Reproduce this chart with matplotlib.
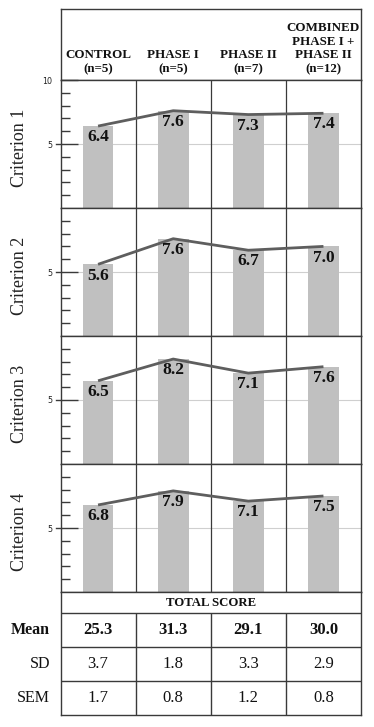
import matplotlib
matplotlib.use('Agg')
import matplotlib.pyplot as plt
from matplotlib.ticker import FixedLocator

# ---- data ----
groups = ["CONTROL\n(n=5)", "PHASE I\n(n=5)", "PHASE II\n(n=7)",
          "COMBINED\nPHASE I +\nPHASE II\n(n=12)"]
criteria = ["Criterion 1", "Criterion 2", "Criterion 3", "Criterion 4"]
crit1 = [6.4, 7.6, 7.3, 7.4]
crit2 = [5.6, 7.6, 6.7, 7.0]
crit3 = [6.5, 8.2, 7.1, 7.6]
crit4 = [6.8, 7.9, 7.1, 7.5]
crit_values = [crit1, crit2, crit3, crit4]
row_labels = ["Mean", "SD", "SEM"]
total_mean = [25.3, 31.3, 29.1, 30.0]
total_sd = [3.7, 1.8, 3.3, 2.9]
total_sem = [1.7, 0.8, 1.2, 0.8]

W, H = 374, 727
fig = plt.figure(figsize=(W / 100, H / 100), dpi=100)
SERIF = ["Liberation Serif", "DejaVu Serif"]
EDGE = "#3a3a3a"
BAR = "#c0c0c0"
LINE = "#5e5e5e"

def fbox(x0, y0, x1, y1):
    return [x0 / W, 1 - y1 / H, (x1 - x0) / W, (y1 - y0) / H]

X0, X1 = 60.5, 361
xs = list(range(len(groups)))

def style_box(ax):
    for s in ax.spines.values():
        s.set_color(EDGE)
        s.set_linewidth(1.0)
    ax.set_xlim(-0.5, 3.5)

# ---- header ----
hax = fig.add_axes(fbox(X0, 9, X1, 80))
style_box(hax)
hax.set_ylim(0, 1)
hax.set_xticks([]); hax.set_yticks([])
for i, g in enumerate(groups):
    hax.text(i, 0.07, g, ha='center', va='bottom', multialignment='center',
             fontsize=9.4, fontweight='bold', family=SERIF, color='#111111',
             linespacing=1.17)

# ---- criterion panels ----
for k, (name, vals) in enumerate(zip(criteria, crit_values)):
    top = 80 + 128 * k
    ax = fig.add_axes(fbox(X0, top, X1, top + 128))
    style_box(ax)
    ax.set_ylim(0, 10)
    ax.axhline(5, color='#cfcfcf', lw=0.8, zorder=0)
    ax.bar(xs, vals, width=0.41, color=BAR, zorder=1)
    ax.plot(xs, vals, color=LINE, lw=2.0, zorder=3, solid_capstyle='butt')
    for x, v in zip(xs, vals):
        ax.text(x, v - 0.25, f"{v:.1f}", ha='center', va='top', fontsize=12.5,
                fontweight='bold', family=SERIF, color='#111111', zorder=4)
    for xv in [0.5, 1.5, 2.5]:
        ax.axvline(xv, color=EDGE, lw=0.9, zorder=2)
    major = [5, 10] if k == 0 else [5]
    ax.yaxis.set_major_locator(FixedLocator(major))
    ax.yaxis.set_minor_locator(FixedLocator([1, 2, 3, 4, 6, 7, 8, 9]))
    ax.set_yticklabels([str(m) for m in major])
    ax.tick_params(axis='y', which='major', direction='in', length=12,
                   width=1.0, color=EDGE, labelsize=5.8, pad=6,
                   labelcolor='#222222')
    ax.tick_params(axis='y', which='minor', direction='in', length=6.5,
                   width=1.0, color=EDGE)
    ax.axhline(5, xmin=-4.5 / (X1 - X0), xmax=0, color=EDGE, lw=1.0,
               clip_on=False)
    ax.set_xticks([])
    ax.set_ylabel(name, family=SERIF, fontsize=13, color='#222222')
    ax.yaxis.set_label_coords(-(X0 - 28) / (X1 - X0), 0.47)

# ---- table ----
tax = fig.add_axes(fbox(X0, 592, X1, 715))
style_box(tax)
tax.set_ylim(123, 0)
tax.set_xticks([]); tax.set_yticks([])
row_edges = [20.5, 55, 89]
for y in row_edges:
    tax.axhline(y, color=EDGE, lw=1.0)
tax.vlines([0.5, 1.5, 2.5], row_edges[0], 123, color=EDGE, lw=1.0)
tax.text(1.5, row_edges[0] / 2 + 0.5, "TOTAL SCORE", ha='center', va='center',
         fontsize=9.2, fontweight='bold', family=SERIF, color='#111111')
row_centers = [(row_edges[0] + row_edges[1]) / 2,
               (row_edges[1] + row_edges[2]) / 2,
               (row_edges[2] + 123) / 2]
rows = [total_mean, total_sd, total_sem]
for r, (lab, vals, yc) in enumerate(zip(row_labels, rows, row_centers)):
    bold = 'bold' if r == 0 else 'normal'
    tax.text(-0.5 - 10.5 / 75, yc, lab, ha='right', va='center',
             fontsize=11.5, fontweight=bold, family=SERIF, color='#111111',
             clip_on=False)
    for x, v in zip(xs, vals):
        tax.text(x, yc, f"{v:.1f}", ha='center', va='center', fontsize=12,
                 fontweight=bold, family=SERIF, color='#111111')

fig.savefig("out.png", dpi=100)
